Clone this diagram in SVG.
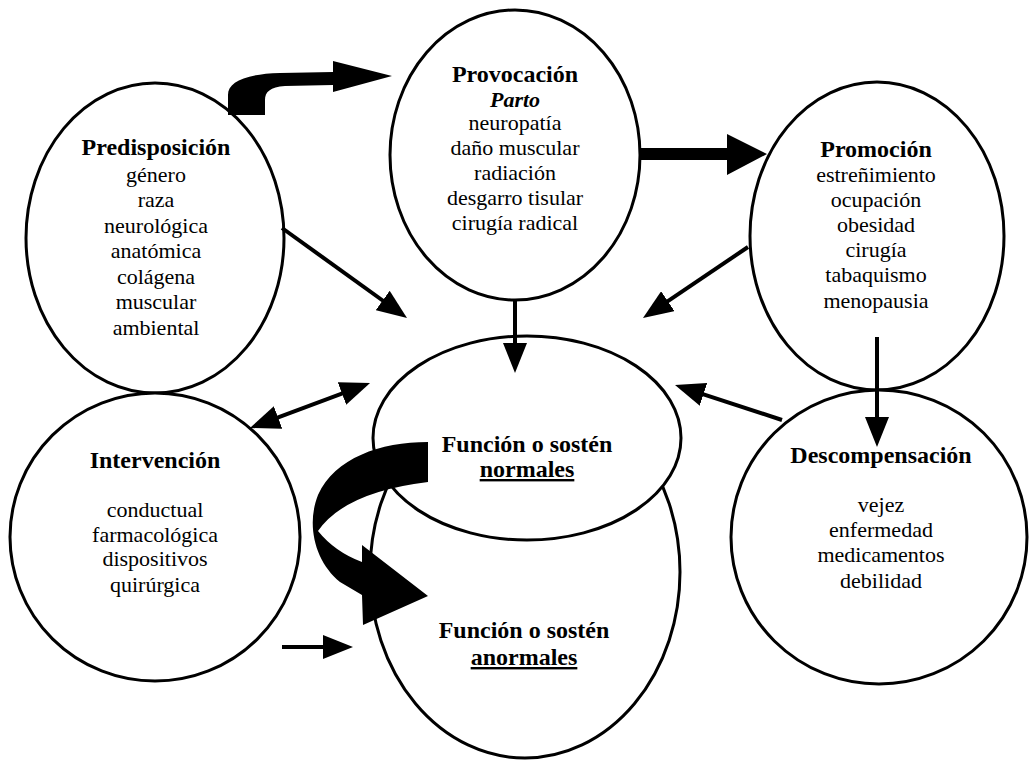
<svg xmlns="http://www.w3.org/2000/svg" width="1029" height="760" viewBox="0 0 1029 760">
<style>
.n{fill:#fff;stroke:#000;stroke-width:3}
text{font-family:"Liberation Serif","Times New Roman",serif;fill:#000;text-anchor:middle}
.t{font-weight:bold;font-size:24px}
.i{font-size:22px}
.c{stroke:#000;stroke-width:4;fill:none}
.f{fill:#000;stroke:none}
</style>
<defs>
<marker id="ah" viewBox="0 0 30 24" markerWidth="30" markerHeight="24" markerUnits="userSpaceOnUse" refX="12" refY="12" orient="auto-start-reverse">
<path d="M0,0 L30,12 L0,24 Z" fill="#000"/>
</marker>
</defs>
<rect width="1029" height="760" fill="#fff"/>
<g id="predisposicion">
<ellipse class="n" cx="155" cy="238" rx="129" ry="155"/>
<text class="t" x="156" y="155">Predisposición</text>
<text class="i" x="156" y="182">género</text>
<text class="i" x="156" y="207">raza</text>
<text class="i" x="156" y="233">neurológica</text>
<text class="i" x="156" y="258">anatómica</text>
<text class="i" x="156" y="284">colágena</text>
<text class="i" x="156" y="309">muscular</text>
<text class="i" x="156" y="335">ambiental</text>
</g>
<g id="provocacion">
<ellipse class="n" cx="515" cy="155" rx="125" ry="145"/>
<text class="t" x="515" y="82">Provocación</text>
<text class="i" x="515" y="107" font-style="italic" font-weight="bold">Parto</text>
<text class="i" x="515" y="130">neuropatía</text>
<text class="i" x="515" y="155">daño muscular</text>
<text class="i" x="515" y="180">radiación</text>
<text class="i" x="515" y="205">desgarro tisular</text>
<text class="i" x="515" y="230">cirugía radical</text>
</g>
<g id="promocion">
<ellipse class="n" cx="877" cy="236" rx="127" ry="154"/>
<text class="t" x="876" y="157">Promoción</text>
<text class="i" x="876" y="182">estreñimiento</text>
<text class="i" x="876" y="207">ocupación</text>
<text class="i" x="876" y="232">obesidad</text>
<text class="i" x="876" y="257">cirugía</text>
<text class="i" x="876" y="282">tabaquismo</text>
<text class="i" x="876" y="308">menopausia</text>
</g>
<g id="intervencion">
<ellipse class="n" cx="155" cy="537" rx="145" ry="144"/>
<text class="t" x="155" y="468">Intervención</text>
<text class="i" x="155" y="517">conductual</text>
<text class="i" x="155" y="542">farmacológica</text>
<text class="i" x="155" y="566">dispositivos</text>
<text class="i" x="155" y="592">quirúrgica</text>
</g>
<g id="descompensacion">
<ellipse class="n" cx="879" cy="537" rx="148" ry="147"/>
<text class="t" x="881" y="463">Descompensación</text>
<text class="i" x="881" y="512">vejez</text>
<text class="i" x="881" y="537">enfermedad</text>
<text class="i" x="881" y="562">medicamentos</text>
<text class="i" x="881" y="588">debilidad</text>
</g>
<g id="anormales">
<ellipse class="n" cx="525" cy="572" rx="155" ry="186"/>
<text class="t" x="524" y="638">Función o sostén</text>
<text class="t" x="524" y="665" text-decoration="underline">anormales</text>
</g>
<g id="normales">
<ellipse class="n" cx="527" cy="438" rx="154" ry="102"/>
<text class="t" x="527" y="452">Función o sostén</text>
<text class="t" x="527" y="477" text-decoration="underline">normales</text>
</g>
<g id="connectors">
<line class="c" x1="282" y1="228" x2="392.4" y2="307.5" marker-end="url(#ah)"/>
<line class="c" x1="515" y1="300" x2="515" y2="355" marker-end="url(#ah)"/>
<line class="c" x1="748" y1="247" x2="657.9" y2="307.9" marker-end="url(#ah)"/>
<line class="c" x1="782" y1="420" x2="692.1" y2="390.6" marker-end="url(#ah)"/>
<line class="c" x1="877" y1="337" x2="877" y2="429" marker-end="url(#ah)"/>
<line class="c" x1="266.8" y1="421.7" x2="353.2" y2="389.3" marker-start="url(#ah)" marker-end="url(#ah)"/>
<line class="c" x1="282" y1="647" x2="335" y2="647" marker-end="url(#ah)"/>
<path class="f" d="M640,148 L727,148 L727,134 L767,154 L727,175 L727,160 L640,160 Z"/>
<path class="f" d="M228,115 L228,95 C228,82 245,74 280,73 L333,72 L333,61 L392,76 L333,92 L333,85 L285,86 C270,87 265,92 265,100 L265,115 Z"/>
<path class="f" d="M428,442 C380,442 335,458 318,495 C306,525 315,562 340,582 L362,595 L363,625 L428,596 L362,545 L362,562 Q335,552 318,531 Q345,492 428,482 Z"/>
</g>
</svg>
